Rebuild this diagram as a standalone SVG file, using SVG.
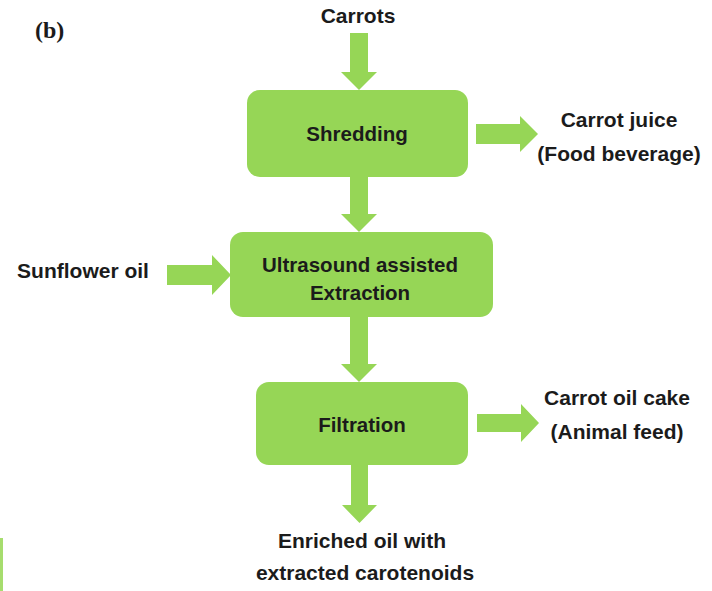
<svg xmlns="http://www.w3.org/2000/svg" width="712" height="591" viewBox="0 0 712 591">
  <style>
    .box { fill: #96d656; }
    .arrow { fill: #96d656; }
    .t { font-family: "Liberation Sans", Arial, sans-serif; font-weight: bold; font-size: 21px; fill: #1b1b1b; text-anchor: middle; }
    .in { font-size: 20.5px; }
    .tag { font-family: "Liberation Serif", "Times New Roman", serif; font-weight: bold; font-size: 24px; fill: #1b1b1b; }
  </style>
  <rect width="712" height="591" fill="#ffffff"/>

  <text class="tag" x="35" y="38">(b)</text>

  <!-- block arrows between steps -->
  <g id="connectors">
    <!-- Carrots -> Shredding -->
    <polygon class="arrow" points="350,33 368,33 368,72 377,72 359,90 341,72 350,72"/>
    <!-- Shredding -> Ultrasound -->
    <polygon class="arrow" points="350,177 368,177 368,214 377,214 359,232 341,214 350,214"/>
    <!-- Ultrasound -> Filtration -->
    <polygon class="arrow" points="350,317 368,317 368,364 377,364 359,382 341,364 350,364"/>
    <!-- Filtration -> Enriched oil -->
    <polygon class="arrow" points="351,465 368,465 368,505 377,505 359.5,523 342,505 351,505"/>
    <!-- Sunflower oil -> Ultrasound -->
    <polygon class="arrow" points="167,265 212,265 212,255 231,275 212,295 212,285 167,285"/>
    <!-- Shredding -> Carrot juice -->
    <polygon class="arrow" points="476,124 520,124 520,116 538,134 520,152 520,144 476,144"/>
    <!-- Filtration -> Carrot oil cake -->
    <polygon class="arrow" points="477,414 521,414 521,404 539,423 521,442 521,432 477,432"/>
  </g>

  <g id="shredding">
    <rect class="box" x="247" y="90" width="221" height="87" rx="13"/>
    <text class="t in" x="357" y="141">Shredding</text>
  </g>

  <g id="ultrasound">
    <rect class="box" x="230" y="232" width="263" height="85" rx="13"/>
    <text class="t in" x="360" y="272">Ultrasound assisted</text>
    <text class="t in" x="360" y="300">Extraction</text>
  </g>

  <g id="filtration">
    <rect class="box" x="256" y="382" width="212" height="83" rx="13"/>
    <text class="t in" x="362" y="432">Filtration</text>
  </g>

  <g id="carrots">
    <text class="t" x="358" y="23">Carrots</text>
  </g>

  <g id="sunflower-oil">
    <text class="t" x="83" y="278">Sunflower oil</text>
  </g>

  <g id="carrot-juice">
    <text class="t" x="619" y="127">Carrot juice</text>
    <text class="t" x="619" y="161">(Food beverage)</text>
  </g>

  <g id="carrot-oil-cake">
    <text class="t" x="617" y="405">Carrot oil cake</text>
    <text class="t" x="617" y="439">(Animal feed)</text>
  </g>

  <g id="enriched-oil">
    <text class="t" x="362" y="548">Enriched oil with</text>
    <text class="t" x="365" y="580">extracted carotenoids</text>
  </g>

  <!-- edge of a neighbouring panel -->
  <rect x="0" y="538" width="3" height="53" fill="#a6dd6e"/>
</svg>
